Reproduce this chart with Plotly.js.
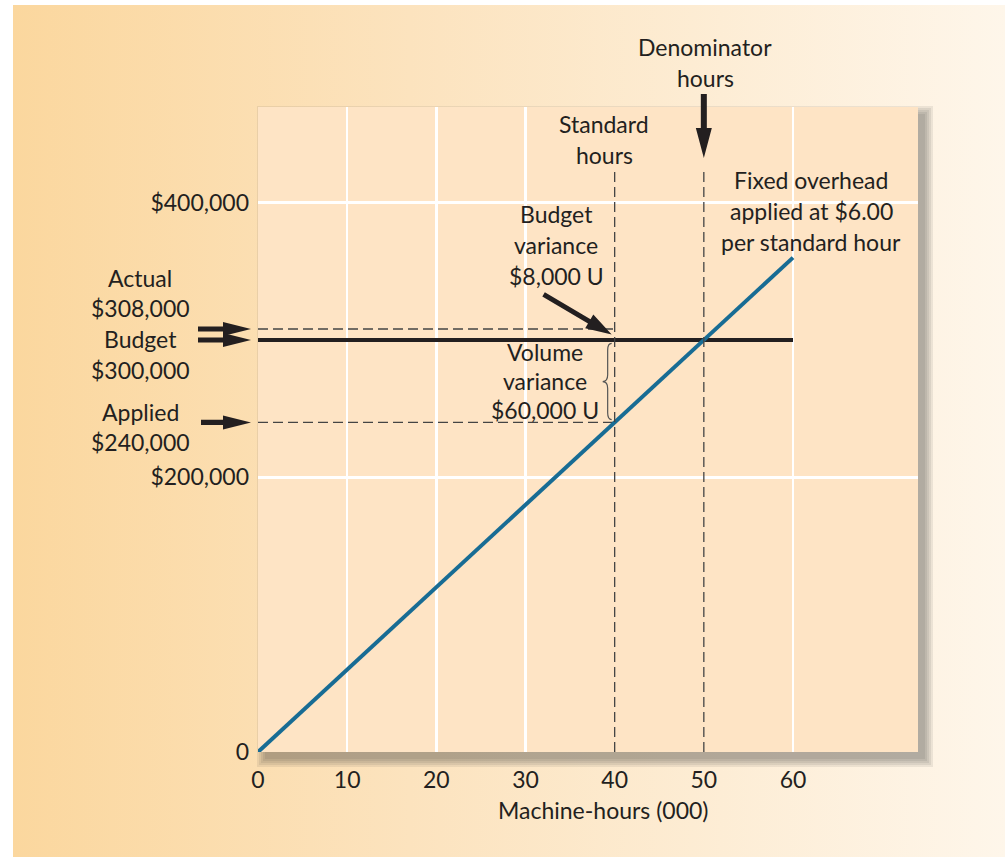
<!DOCTYPE html>
<html>
<head>
<meta charset="utf-8">
<script src="https://cdn.plot.ly/plotly-3.0.1.min.js"></script>
<style>
html,body{margin:0;padding:0;background:#ffffff;}
#wrap{position:absolute;left:0;top:0;width:1005px;height:857px;background:#ffffff;overflow:hidden;}
#bg{position:absolute;left:13px;top:5px;right:0;bottom:0;background:linear-gradient(to right,#FBD79E 0%,#FCE3BE 40%,#FEF6EA 100%);}
#chart{position:absolute;left:0;top:0;width:1005px;height:857px;}
</style>
</head>
<body>
<div id="wrap"><div id="bg"></div><div id="chart"></div></div>
<script>
// ---------------- data ----------------
const lineHours = [0, 60];                 // machine-hours (000)
const appliedLine = [0, 360000];           // fixed overhead applied at $6.00 per standard hour
const budgetHours = [0, 60];
const budgetLine = [300000, 300000];       // budgeted fixed overhead
const standardHours = 40;                  // (000)
const denominatorHours = 50;               // (000)
const actualOverhead = 308000;
const budgetOverhead = 300000;
const appliedOverhead = 240000;
const xTickVals = [0, 10, 20, 30, 40, 50, 60];
const xTickText = ['0', '10', '20', '30', '40', '50', '60'];
const xGridVals = [10, 20, 30, 60];
const yTickVals = [0, 200000, 400000];
const yTickText = ['0', '$200,000', '$400,000'];

// ---------------- geometry helpers (page pixels -> paper) ----------------
const W = 1005, H = 857;
const L = 258, R = 918, T = 107, B = 752;
const X = px => (px - L) / (R - L);
const Y = py => (B - py) / (B - T);

const FONT = 'Lato, "Open Sans", sans-serif';
const INK = '#231F20';
const FS = 23;

function textLines(cx, cy, lines, gap, size) {
  return lines.map((t, i) => ({
    xref: 'paper', yref: 'paper', x: X(cx), y: Y(cy + i * gap),
    text: t, showarrow: false, xanchor: 'center', yanchor: 'middle',
    font: {family: FONT, size: size || FS, color: INK}
  }));
}

// arrow polygon in pixel offsets (y up), tip at (tx,ty), u = unit direction tail->tip
function arrowPath(tx, ty, ux, uy, len, headLen, headHalf, shaftHalf) {
  const vx = -uy, vy = ux;
  const p = (a, b) => [tx - a * ux + b * vx, ty - a * uy + b * vy];
  const pts = [p(len, shaftHalf), p(headLen, shaftHalf), p(headLen, headHalf), [tx, ty],
               p(headLen, -headHalf), p(headLen, -shaftHalf), p(len, -shaftHalf)];
  return 'M' + pts.map(q => q[0].toFixed(2) + ',' + q[1].toFixed(2)).join(' L') + ' Z';
}

// ---------------- traces ----------------
const dash = '10px,5px';
const traces = [
  {x: [0, standardHours], y: [actualOverhead, actualOverhead], mode: 'lines',
   line: {color: '#444', width: 1.3, dash: dash}, hoverinfo: 'skip', showlegend: false},
  {x: [0, standardHours], y: [appliedOverhead, appliedOverhead], mode: 'lines',
   line: {color: '#444', width: 1.3, dash: dash}, hoverinfo: 'skip', showlegend: false},
  {x: budgetHours, y: budgetLine, mode: 'lines',
   line: {color: INK, width: 4}, hoverinfo: 'skip', showlegend: false},
  {x: lineHours, y: appliedLine, mode: 'lines', xaxis: 'x2',
   line: {color: '#186C94', width: 4}, hoverinfo: 'skip', showlegend: false}
];

// ---------------- shapes ----------------
const shapes = [];
// soft drop shadow behind the plot panel
[8, 6, 4, 2, 0].forEach(s => {
  shapes.push({type: 'rect', xref: 'paper', yref: 'paper', layer: 'below',
    x0: X(L + 7 - s), x1: X(R + 7 + s), y0: Y(B + 7 + s), y1: Y(T + 7 - s),
    fillcolor: 'rgba(60,60,60,0.09)', line: {width: 0}});
});
// plot panel
shapes.push({type: 'rect', xref: 'paper', yref: 'paper', layer: 'below',
  x0: 0, x1: 1, y0: 0, y1: 1, fillcolor: '#FEE4C5', line: {width: 0}});
// vertical dashed lines at standard and denominator hours
[standardHours, denominatorHours].forEach(h => {
  shapes.push({type: 'line', xref: 'x', yref: 'paper', x0: h, x1: h, y0: 0, y1: Y(168),
    line: {color: '#444', width: 1.3, dash: dash}, layer: 'above'});
});
// left arrows pointing at actual / budget / applied
[[actualOverhead, 53], [budgetOverhead, 53], [appliedOverhead, 50]].forEach(a => {
  shapes.push({type: 'path', xref: 'paper', yref: 'y', xsizemode: 'pixel', ysizemode: 'pixel',
    xanchor: 0, yanchor: a[0], path: arrowPath(-7, 0, 1, 0, a[1], 28, 7, 2.6),
    fillcolor: INK, line: {width: 0}, layer: 'above'});
});
// denominator hours arrow
shapes.push({type: 'path', xref: 'x', yref: 'paper', xsizemode: 'pixel', ysizemode: 'pixel',
  xanchor: denominatorHours, yanchor: Y(158), path: arrowPath(0, 0, 0, -1, 64, 30, 8, 3),
  fillcolor: INK, line: {width: 0}, layer: 'above'});
// budget variance arrow
(function () {
  const dx = 68, dy = -40, n = Math.hypot(dx, dy);
  shapes.push({type: 'path', xref: 'x', yref: 'y', xsizemode: 'pixel', ysizemode: 'pixel',
    xanchor: standardHours, yanchor: (actualOverhead + budgetOverhead) / 2,
    path: arrowPath(-3, 0, dx / n, dy / n, 79, 26, 8, 2.5),
    fillcolor: INK, line: {width: 0}, layer: 'above'});
})();
// curly brace for volume variance (between budget and applied)
(function () {
  const top = budgetOverhead - 2500, bot = appliedOverhead + 2000, mid = (top + bot) / 2, d = 5000;
  const xe = -3, xs = -7, xp = -12;
  const path = `M${xe},${top} Q${xs},${top} ${xs},${top - d} L${xs},${mid + d} Q${xs},${mid} ${xp},${mid} ` +
               `Q${xs},${mid} ${xs},${mid - d} L${xs},${bot + d} Q${xs},${bot} ${xe},${bot}`;
  shapes.push({type: 'path', xref: 'x', yref: 'y', xsizemode: 'pixel', xanchor: standardHours,
    path: path, line: {color: '#555', width: 1.2}, layer: 'above'});
})();

// ---------------- annotations ----------------
let ann = [];
ann = ann.concat(textLines(705, 47, ['Denominator', 'hours'], 31));
ann = ann.concat(textLines(604, 124, ['Standard', 'hours'], 31));
ann = ann.concat(textLines(811, 180, ['Fixed overhead', 'applied at $6.00', 'per standard hour'], 31));
ann = ann.concat(textLines(556, 214, ['Budget', 'variance', '$8,000 U'], 31));
ann = ann.concat(textLines(545, 352, ['Volume', 'variance', '$60,000 U'], 29));
ann = ann.concat(textLines(140, 278, ['Actual', '$308,000'], 30));
ann = ann.concat(textLines(140, 339, ['Budget', '$300,000'], 31));
ann = ann.concat(textLines(140, 412, ['Applied', '$240,000'], 30));
ann = ann.concat(textLines(603, 810, ['Machine-hours (000)'], 30));

const xRange = [0, 60 * (R - L) / (793 - L)];
const yRange = [0, 300000 * (B - T) / (B - 340)];

const layout = {
  width: W, height: H,
  margin: {l: L, r: W - R, t: T, b: H - B, pad: 0},
  paper_bgcolor: 'rgba(0,0,0,0)', plot_bgcolor: 'rgba(0,0,0,0)',
  showlegend: false,
  font: {family: FONT, size: FS, color: INK},
  xaxis: {range: xRange, tickvals: xTickVals, ticktext: xTickText, showgrid: false,
          zeroline: false, showline: false, ticks: '', ticklabelstandoff: 12,
          tickfont: {family: FONT, size: FS, color: INK}, fixedrange: true},
  xaxis2: {range: xRange, overlaying: 'x', anchor: 'y', side: 'bottom', tickvals: xGridVals,
           showticklabels: false, ticks: '', showgrid: true, gridcolor: '#FFFFFF', gridwidth: 2.5,
           zeroline: false, showline: false, fixedrange: true},
  yaxis: {range: yRange, tickvals: yTickVals, ticktext: yTickText, showgrid: true,
          gridcolor: '#FFFFFF', gridwidth: 2.5, zeroline: false, showline: false, ticks: '',
          ticklabelstandoff: 8, tickfont: {family: FONT, size: FS, color: INK}, fixedrange: true},
  shapes: shapes,
  annotations: ann
};

Plotly.newPlot('chart', traces, layout, {displayModeBar: false, staticPlot: true});
</script>
</body>
</html>
